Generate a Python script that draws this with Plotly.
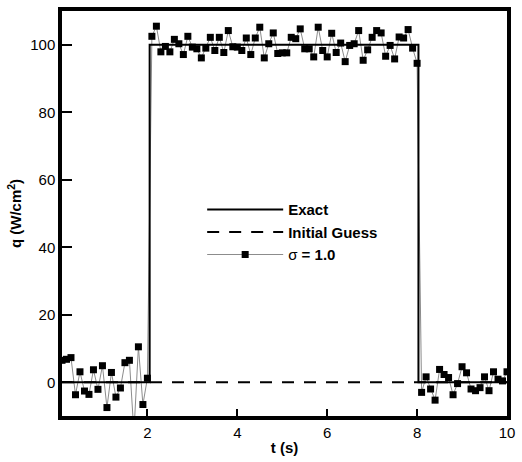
import plotly.graph_objects as go

# time grid of the noisy measurement
t_meas = [round(0.1 * i, 1) for i in range(1, 101)]
q_meas = [
    6.5, 6.8, 7.3, -3.7, 3.1, -2.6, -3.6, 3.7, -2.1, 4.9,
    -7.5, 2.9, -4.4, -1.7, 5.8, 6.5, -15.0, 10.5, -6.6, 1.2,
    102.5, 105.5, 97.9, 99.5, 97.9, 101.6, 100.3, 97.1, 102.5, 99.3,
    98.8, 96.1, 99.0, 102.2, 98.3, 102.2, 97.7, 104.2, 99.4, 99.3,
    98.3, 102.0, 97.1, 102.0, 105.2, 96.1, 100.3, 103.5, 97.4, 97.6,
    97.6, 102.2, 101.8, 104.7, 98.8, 98.8, 96.4, 105.2, 98.3, 96.4,
    103.4, 97.7, 100.5, 95.0, 99.8, 100.3, 104.2, 95.4, 98.5, 102.2,
    104.2, 103.5, 96.6, 99.8, 95.8, 102.3, 102.0, 104.5, 99.0, 94.5,
    -3.0, 1.6, -2.0, -5.3, 3.8, 2.3, 1.4, -3.7, -0.4, 4.6,
    2.8, -2.0, -2.5, -1.6, 1.6, -2.5, 3.1, 0.9, 0.4, 3.1,
]

t_exact = [0.1, 2.05, 2.05, 8.03, 8.03, 10.0]
q_exact = [0, 0, 100, 100, 0, 0]

t_guess = [0.1, 10.0]
q_guess = [0, 0]

x_ticks = [2, 4, 6, 8, 10]
y_ticks = [0, 20, 40, 60, 80, 100]

FONT = "Arial, Liberation Sans, sans-serif"

fig = go.Figure()
fig.add_trace(go.Scatter(
    x=t_meas, y=q_meas, mode="lines+markers", name="\u03c3 <b>= 1.0</b>",
    line=dict(color="#8c8c8c", width=1),
    marker=dict(symbol="square", size=7, color="black"),
    legendrank=3,
))
fig.add_trace(go.Scatter(
    x=t_exact, y=q_exact, mode="lines", name="<b>Exact</b>",
    line=dict(color="black", width=2), legendrank=1,
))
fig.add_trace(go.Scatter(
    x=t_guess, y=q_guess, mode="lines", name="<b>Initial Guess</b>",
    line=dict(color="black", width=2, dash="12px,10px"), legendrank=2,
))

fig.update_layout(
    width=522, height=462,
    margin=dict(l=62, r=9, t=7, b=44),
    paper_bgcolor="white", plot_bgcolor="white",
    font=dict(family=FONT, size=15, color="black"),
    showlegend=True,
    legend=dict(
        x=0.315, y=0.55, xanchor="left", yanchor="top",
        bgcolor="rgba(0,0,0,0)", borderwidth=0,
        font=dict(family=FONT, size=15, color="black"),
        itemwidth=76, tracegroupgap=0,
    ),
    xaxis=dict(
        range=[0.1, 10], tickvals=x_ticks, ticktext=[str(v) for v in x_ticks],
        showgrid=False, zeroline=False,
        showline=True, linecolor="black", linewidth=3.5, mirror=True,
        ticks="inside", ticklen=7, tickwidth=1.5, tickcolor="black",
        tickfont=dict(size=15),
        title=dict(text="t (s)", font=dict(size=15, weight="bold"), standoff=4),
    ),
    yaxis=dict(
        range=[-10, 110], tickvals=y_ticks, ticktext=[str(v) for v in y_ticks],
        showgrid=False, zeroline=False,
        showline=True, linecolor="black", linewidth=3.5, mirror=True,
        ticks="inside", ticklen=10, tickwidth=1.5, tickcolor="black",
        tickfont=dict(size=15),
        title=dict(text="q (W/cm<sup>2</sup>)", font=dict(size=15, weight="bold"), standoff=6),
    ),
)

fig.write_html("out.html")
